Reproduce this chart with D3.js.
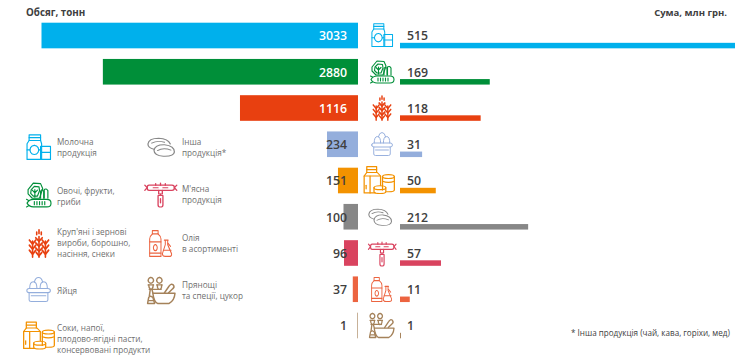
<!DOCTYPE html>
<html><head><meta charset="utf-8">
<script src="https://cdn.jsdelivr.net/npm/d3@7"></script>
<style>
html,body{margin:0;padding:0;background:#fff}
svg{display:block}
text{font-family:"Open Sans",sans-serif}
</style></head><body><svg id="c" width="744" height="360"></svg>
<script>
// Categories, top to bottom
const categories = ["milk","veg","grain","eggs","juice","other","meat","oil","spice"];
// Printed values
const volumeLabels = [3033,2880,1116,234,151,100,96,37,1];
const sumLabels = [515,169,118,31,50,212,57,11,1];
// The source's bars are not proportional to their printed numbers,
// so bar lengths are read separately off the picture, in the same units.
const volumeDrawn = [3033,2445,1131,297,192,139,134,50,6];
const sumDrawn = [515,138,124,34,55,197,63,15,1.5];
const colors = ["#00b0ec","#008f39","#e84010","#94aedc","#f39200","#878787","#d9435f","#ec6440","#a5825a"];
const volumeTitle = "Обсяг, тонн", sumTitle = "Сума, млн грн.";
const footnote = "* Інша продукція (чай, кава, горіхи, мед)";
const legendLines = {
  milk:["Молочна","продукція"], veg:["Овочі, фрукти,","гриби"],
  grain:["Круп'яні і зернові","вироби, борошно,","насіння, снеки"], eggs:["Яйця"],
  juice:["Соки, напої,","плодово-ягідні пасти,","консервовані продукти"],
  other:["Інша","продукція*"], meat:["М'ясна","продукція"],
  oil:["Олія","в асортименті"], spice:["Прянощі","та спеції, цукор"]
};

// Line-art pictograms, each drawn in a 24×24 box
const icons = {
  milk:["M3 6 V0.8 H14 V6","M3 3.4 H14","M3 6 L1 9 V23.5 H15 V9 L14 6 Z","M8 10.5 a4.2 4.2 0 1 0 .01 0","M14 11.5 H23.5 V23.5 H14 Z","M14 17 H23.5","M1 14.7 H3.8","M12.2 14.7 H14"],
  veg:["M2 7 L7 1 L14 1.5 L16 6 L13 15 L6 15 L2 11 Z","M5 7 L8 4 L12.5 4.5 L13 8 L11 13 L7 13 L4.5 10.5 Z","M8.5 14 V7 M8.5 10 L6 7.5 M8.5 10 L11 7.5","M14 15 V8.5 M14 8.5 Q15.5 6 17 8.5 V15","M17.5 15 V7 Q19.5 5.5 21 8 V15","M1 19.5 Q3 16 7 16 H20 Q24 16 24 19.5 Q24 23 20 23 H7 Q3 23 1 19.5 Z","M8 18 V21 M10.5 18 V21 M13 18 V21 M15.5 18 V21 M18 18 V21","M2.5 17 L0.5 16 M2.5 22 L0.5 23"],
  grain:["M12 0 V3","M12 6 V24","M9.5 2 V4 M14.5 2 V4","M8.5 7 L12 10 L15.5 7 M8.5 11.5 L12 14.5 L15.5 11.5 M8.5 16 L12 19 L15.5 16 M9 20 L12 23 L15 20","M5 10 V24","M1.5 9 L5 12.5 L8.5 9 M1.5 13.5 L5 17 L8.5 13.5 M1.5 18 L5 21.5 L8.5 18","M19 10 V24","M15.5 9 L19 12.5 L22.5 9 M15.5 13.5 L19 17 L22.5 13.5 M15.5 18 L19 21.5 L22.5 18"],
  eggs:["M3.5 11 Q3.5 4.5 7 4.5 Q10.5 4.5 10.5 11","M8 5 Q9 0.5 12 0.5 Q15 0.5 16 5","M13.5 11 Q13.5 4.5 17 4.5 Q20.5 4.5 20.5 11","M0.8 13 Q0.8 11 3 11 H21 Q23.4 11 23.4 13 Q23.4 15 21 15 H3 Q0.8 15 0.8 13 Z","M3 15 V22 Q3 23.5 5 23.5 H19 Q21 23.5 21 22 V15","M5 18 H19"],
  juice:["M2.5 6 V1 H10 V6","M2.5 3.5 H10","M2.5 6 L0.5 9 V23.5 H9 M13 17 V9 L10.5 6 H2.5","M0.5 9 H13","M5 9 V23.5","M2 17 V20","M14.5 9.5 a4.5 1.7 0 1 0 9 0 a4.5 1.7 0 1 0 -9 0","M14.5 9.5 V21 M23.5 9.5 V21 Q23.5 22.5 19 22.5 H17.5","M14.5 13.5 Q19 15.5 23.5 13.5","M8 19 a4.5 1.7 0 1 0 9 0 a4.5 1.7 0 1 0 -9 0","M8 19 V22.5 Q8 24 12.5 24 Q17 24 17 22.5 V19"],
  other:["M6 14 Q0.8 12.5 0.8 8 Q1.5 1.5 10 1.5 Q18 2 20 8","M4 7 Q9 3.5 15 6","M6 15 Q7 8.5 15 8.8 Q23.5 10 23.5 17 Q23 22.5 14 22 Q6 21 6 15 Z","M9 15.5 Q14 11.5 20.5 15"],
  meat:["M2.5 3 Q1 3 1 5.5 Q1 8 2.5 8 H21.5 Q23.5 8 23.5 5.5 Q23.5 3 21.5 3 Z","M1 5.5 L-1 3 M1 5.5 L-1 8 M23.5 5.5 L25.5 3 M23.5 5.5 L25.5 8","M8 3 V1.5 M12 3 V1 M16 3 V1.5","M6 5.5 H10 M14 5.5 H18","M10.5 8 V11.5 H13.5 V8","M12 11.5 V13","M10 13 H14 V22 Q14 24 12 24 Q10 24 10 22 Z","M12 16 V20"],
  oil:["M3.5 0.5 H9.5 V3.5 H3.5 Z","M3.5 3.5 Q0.7 5.5 0.7 8 V23.5 H12.5 V8 Q12.5 5.5 9.5 3.5","M0.7 10.5 H12.5 M0.7 20.5 H12.5","M6.6 13 a2 2.7 0 1 0 .01 0","M16 9 H20 M17 9 V13 L14 21 Q14 23.5 17 23.5 H21 Q24 23.5 23.5 21 L19.5 13 V9","M15 18 H23","M20 12 L22.5 14.5"],
  spice:["M3.3 0.5 a2.3 2.5 0 1 0 .01 0 M10.6 0.5 a2.3 2.5 0 1 0 .01 0","M1 7 H5.6 M8.3 7 H12.9","M1.5 7 Q1.5 10 3 11 M5.3 7 Q5.3 10 4 11 M8.8 7 Q8.8 10 10 11 M12.6 7 Q12.6 10 11.5 11","M2 11 H12","M2.8 11 L2 17 M4.2 11 L5 14","M5 14.5 H24 Q23.5 21 19 23.5 H9 Q6 22 5 14.5 Z","M15 14 L19 8 Q20.5 5.5 22.5 7 Q24 9 22 10.5 L18.5 14","M0.5 23.5 H6.5 L5 18 L3 17 L1.5 18 Z","M1.5 21 H6"]
};
const iconStroke = {milk:1.1,veg:1.1,grain:1.75,eggs:1,juice:.95,other:1.05,meat:1.1,oil:1.05,spice:1.25};

const leftOrigin = 358, rightOrigin = 400;
const xVolume = d3.scaleLinear().domain([0,3033]).range([0,316.5]);
const xSum = d3.scaleLinear().domain([0,515]).range([0,335]);
const y = d3.scaleBand().domain(categories).range([22.7,338.3]).paddingInner(0.293);

const svg = d3.select("#c");
const rows = categories.map((c,i)=>({c,i,vol:volumeLabels[i],sum:sumLabels[i],vd:volumeDrawn[i],sd:sumDrawn[i],col:colors[i]}));
const bandH = y.bandwidth(), thin = 5.5;

svg.selectAll("rect.v").data(rows).join("rect").attr("class","v")
  .attr("x",d=>leftOrigin-xVolume(d.vd)).attr("y",d=>y(d.c))
  .attr("width",d=>xVolume(d.vd)).attr("height",bandH).attr("fill",d=>d.col);
svg.selectAll("rect.s").data(rows).join("rect").attr("class","s")
  .attr("x",rightOrigin).attr("y",d=>y(d.c)+bandH-thin)
  .attr("width",d=>xSum(d.sd)).attr("height",thin).attr("fill",d=>d.col);

svg.selectAll("text.vl").data(rows).join("text").attr("class","vl")
  .attr("x",347).attr("y",d=>y(d.c)+bandH/2+4.9).attr("text-anchor","end")
  .attr("font-size",12.3).attr("font-weight",600)
  .attr("fill",d=>d.i<3?"#fff":"#404040").text(d=>d.vol);
svg.selectAll("text.sl").data(rows).join("text").attr("class","sl")
  .attr("x",407).attr("y",d=>y(d.c)+bandH/2+4.9)
  .attr("font-size",12.3).attr("font-weight",600).attr("fill","#404040").text(d=>d.sum);

svg.append("text").attr("x",26).attr("y",16).attr("font-size",9.8).attr("font-weight",700).attr("fill","#404040").text(volumeTitle);
svg.append("text").attr("x",727).attr("y",16).attr("text-anchor","end").attr("font-size",9.5).attr("font-weight",700).attr("fill","#404040").text(sumTitle);
svg.append("text").attr("x",571).attr("y",336).attr("font-size",8.1).attr("fill","#404040").text(footnote);

function drawIcon(key,color,x0,y0,w,h,sw){
  const g = svg.append("g").attr("transform",`translate(${x0},${y0}) scale(${w/24},${h/24})`);
  g.selectAll("path").data(icons[key]).join("path").attr("d",d=>d)
    .attr("fill","none").attr("stroke",color).attr("stroke-width",sw)
    .attr("stroke-linejoin","round").attr("stroke-linecap","round");
}
const rowIconBoxes = {milk:[371,23,22,24],veg:[370,60,24,24],grain:[372,96,20,24],eggs:[371,132,22,24],juice:[363.5,165.5,31.5,28],other:[368,208,24,19],meat:[369.5,241,25,25],oil:[371,277,21,25],spice:[369,313,25,25]};
const legIconBoxes = {milk:[26,134,25,26],veg:[26,182,25,26],grain:[28,230,22,27],eggs:[26,277,25,25],juice:[23,321,32,28],other:[147,137,28,21],meat:[146,182,29,25],oil:[149,230,23,27],spice:[147,277,28,27]};
categories.forEach((c,i)=>{
  const b=rowIconBoxes[c]; drawIcon(c,colors[i],b[0],b[1],b[2],b[3],iconStroke[c]);
  const l=legIconBoxes[c]; drawIcon(c,colors[i],l[0],l[1],l[2],l[3],iconStroke[c]);
});

const legendPos = {milk:[57,145],veg:[57,194],grain:[57,235],eggs:[57,294],juice:[57,331],other:[182,144.5],meat:[182,192],oil:[182,241],spice:[182,288]};
categories.forEach(k=>{
  const [x,yy]=legendPos[k];
  const t=svg.append("text").attr("font-size",8.2).attr("fill","#6f6f6f");
  legendLines[k].forEach((s,i)=>t.append("tspan").attr("x",x).attr("y",yy+i*11).text(s));
});
</script></body></html>
